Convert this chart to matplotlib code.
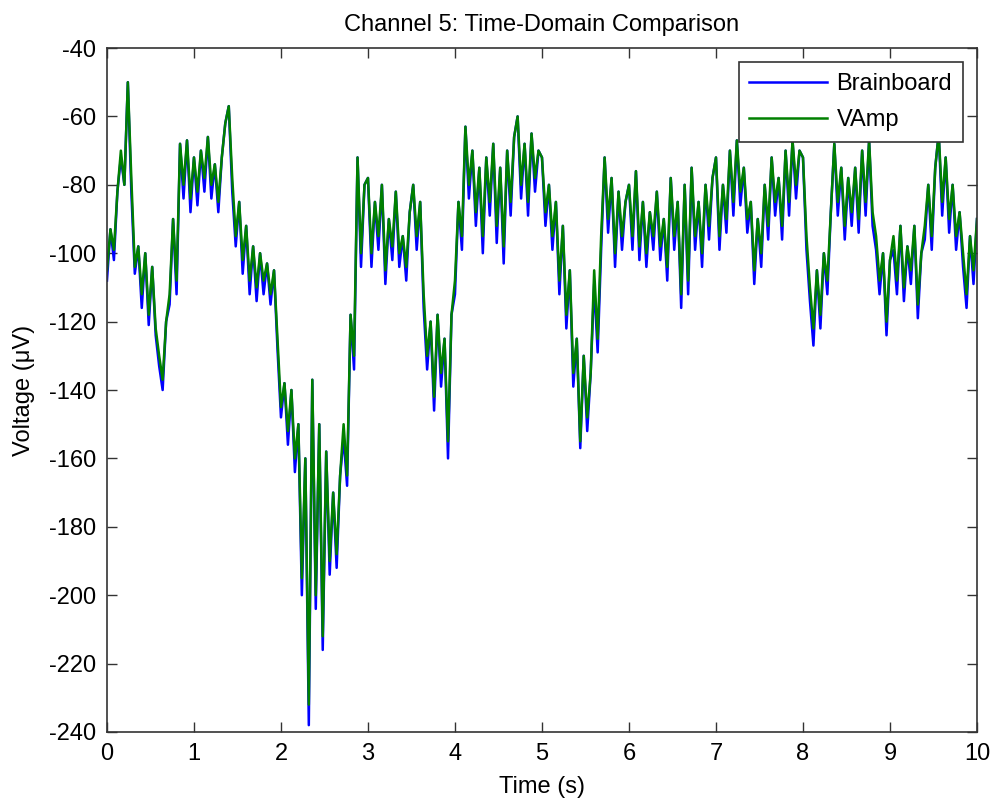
import matplotlib
matplotlib.use("Agg")
import matplotlib.pyplot as plt
import numpy as np

plt.rcParams['font.family'] = ['Liberation Sans', 'DejaVu Sans']
plt.rcParams['axes.unicode_minus'] = False

# sampling grid of the traces, seconds
time_step = 0.04
n_points = 251

# VAmp trace, one value per 0.04 s (µV)
vamp = [
    # 0 s
    -105, -93, -99, -82, -70, -80, -50, -78, -104, -98, -112, -100, -118,
    -104, -122, -130, -137, -120, -112, -90, -108, -68, -80, -67, -84,
    # 1 s
    -72, -82, -70, -78, -66, -80, -74, -85, -72, -62, -57, -78, -95,
    -85, -102, -92, -108, -98, -110, -100, -108, -103, -112, -105, -125,
    # 2 s
    -145, -138, -152, -140, -160, -150, -195, -160, -232, -137, -200, -150, -212,
    -158, -190, -170, -188, -165, -150, -165, -118, -130, -72, -100, -80,
    # 3 s
    -78, -100, -85, -95, -80, -105, -90, -98, -82, -100, -95, -104, -88,
    -80, -95, -85, -112, -130, -120, -142, -118, -135, -125, -155, -118,
    # 4 s
    -108, -85, -95, -63, -80, -70, -88, -75, -95, -72, -85, -68, -92,
    -75, -98, -70, -85, -66, -60, -80, -68, -85, -65, -78, -70,
    # 5 s
    -72, -88, -80, -95, -85, -108, -92, -118, -105, -135, -125, -155, -130,
    -148, -135, -105, -125, -95, -72, -90, -78, -100, -82, -95, -85,
    # 6 s
    -80, -95, -76, -98, -85, -100, -88, -95, -82, -98, -90, -104, -78,
    -95, -85, -112, -80, -108, -75, -95, -85, -100, -80, -92, -78,
    # 7 s
    -72, -95, -80, -90, -70, -85, -67, -82, -75, -90, -85, -105, -90,
    -100, -80, -92, -72, -85, -78, -92, -70, -85, -67, -80, -70,
    # 8 s
    -72, -95, -110, -122, -105, -118, -100, -108, -88, -68, -85, -75, -92,
    -78, -88, -75, -90, -70, -85, -67, -88, -95, -108, -100, -120,
    # 9 s
    -102, -95, -108, -92, -110, -98, -105, -92, -115, -100, -92, -80, -95,
    -75, -65, -85, -72, -90, -80, -95, -88, -100, -112, -95, -105,
    # 10 s
    -90,
]

# Brainboard trace, same grid (µV), dips reach a little lower
brainboard = [
    # 0 s
    -108, -93, -102, -82, -72, -80, -50, -82, -106, -98, -116, -100, -121,
    -104, -124, -133, -140, -120, -115, -90, -112, -68, -84, -67, -88,
    # 1 s
    -72, -86, -70, -82, -66, -84, -74, -88, -72, -62, -57, -82, -98,
    -85, -106, -92, -112, -98, -114, -100, -112, -103, -115, -105, -128,
    # 2 s
    -148, -138, -156, -140, -164, -150, -200, -160, -238, -137, -204, -150, -216,
    -158, -194, -170, -192, -165, -154, -168, -118, -134, -72, -104, -80,
    # 3 s
    -78, -104, -85, -99, -80, -109, -90, -102, -82, -104, -95, -108, -88,
    -80, -99, -85, -116, -134, -120, -146, -118, -139, -125, -160, -118,
    # 4 s
    -112, -85, -99, -63, -84, -70, -92, -75, -100, -72, -89, -68, -97,
    -75, -103, -70, -89, -66, -60, -84, -68, -89, -65, -82, -70,
    # 5 s
    -72, -92, -80, -99, -85, -112, -92, -122, -105, -139, -125, -157, -130,
    -152, -135, -109, -129, -99, -72, -94, -78, -104, -82, -99, -85,
    # 6 s
    -80, -99, -76, -102, -85, -104, -88, -99, -82, -102, -90, -108, -78,
    -99, -85, -116, -80, -112, -75, -99, -85, -104, -80, -96, -78,
    # 7 s
    -72, -99, -80, -94, -70, -89, -67, -86, -75, -94, -85, -109, -90,
    -104, -80, -96, -72, -89, -78, -96, -70, -89, -67, -84, -70,
    # 8 s
    -72, -99, -114, -127, -105, -122, -100, -112, -88, -68, -89, -75, -96,
    -78, -92, -75, -94, -70, -89, -67, -92, -99, -112, -100, -124,
    # 9 s
    -102, -99, -112, -92, -114, -98, -109, -92, -119, -100, -96, -80, -99,
    -75, -65, -89, -72, -94, -80, -99, -88, -104, -116, -95, -109,
    # 10 s
    -90,
]

x_ticks = [0, 1, 2, 3, 4, 5, 6, 7, 8, 9, 10]
y_ticks = [-240, -220, -200, -180, -160, -140, -120, -100, -80, -60, -40]

t = np.arange(n_points) * time_step

fig = plt.figure(figsize=(9.95, 8.1), dpi=100)
ax = fig.add_axes([0.1075, 0.0963, 0.8744, 0.8444])

ax.plot(t, brainboard, color=(0, 0, 1), linewidth=1.8, label="Brainboard")
ax.plot(t, vamp, color=(0, 0.5, 0), linewidth=1.8, label="VAmp")

ax.set_xlim(0, 10)
ax.set_ylim(-240, -40)
ax.set_xticks(x_ticks)
ax.set_yticks(y_ticks)
ax.tick_params(direction='in', length=7, width=1, top=True, right=True,
               labelsize=17, pad=8, color='#333333')
for s in ax.spines.values():
    s.set_linewidth(1.2)
    s.set_color('#333333')

ax.set_title("Channel 5: Time-Domain Comparison", fontsize=17, pad=12)
ax.set_xlabel("Time (s)", fontsize=17, labelpad=8)
ax.set_ylabel("Voltage (\u03bcV)", fontsize=17, labelpad=10)

leg = ax.legend(loc='upper right', fontsize=17, fancybox=False,
                edgecolor='#333333', framealpha=1, handlelength=3.3,
                handletextpad=0.4, borderaxespad=0.6, borderpad=0.45,
                labelspacing=0.6)
leg.get_frame().set_linewidth(1.2)

plt.savefig("out.png", dpi=100)
plt.close()
